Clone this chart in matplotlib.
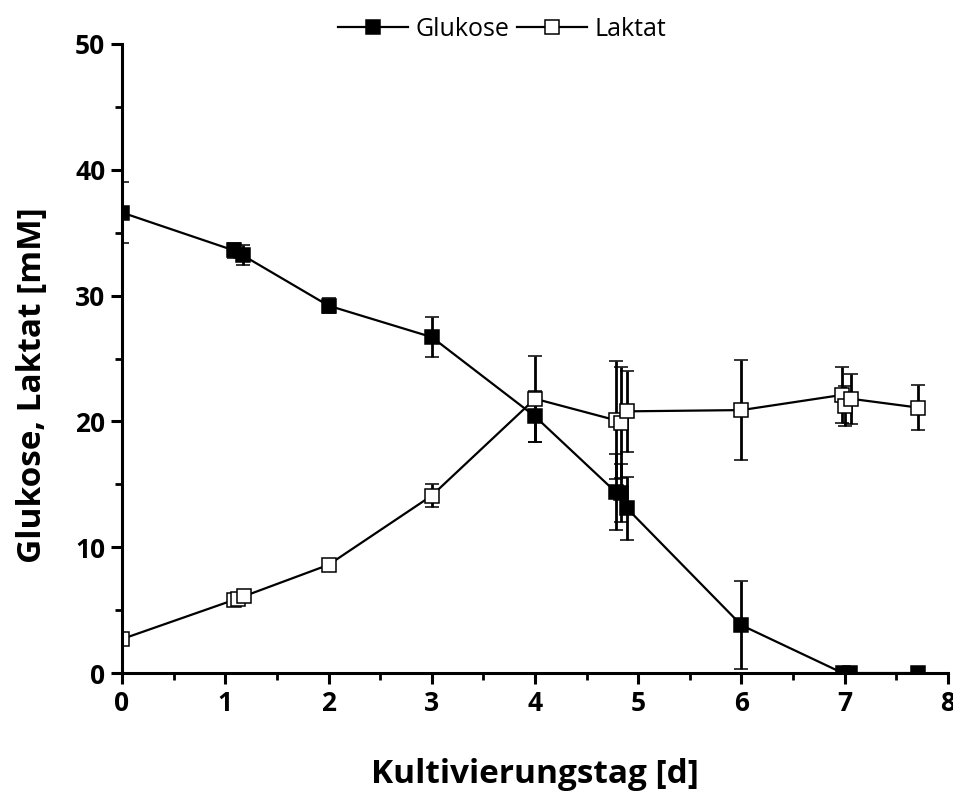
import matplotlib
matplotlib.use("Agg")
import matplotlib.pyplot as plt
from matplotlib.ticker import MultipleLocator

plt.rcParams["font.family"] = ["Open Sans", "DejaVu Sans"]

# ── Data ──────────────────────────────────────────────────────────────
glc_day = [0.0, 1.08, 1.17, 2.0, 3.0, 4.0, 4.78, 4.83, 4.89, 6.0, 6.98, 7.05, 7.71]
glc_val = [36.6, 33.6, 33.2, 29.2, 26.7, 20.4, 14.4, 14.3, 13.1, 3.8, 0.0, 0.0, 0.0]
glc_err = [2.4, 0.6, 0.8, 0.6, 1.6, 2.0, 3.0, 2.3, 2.5, 3.5, 0.0, 0.0, 0.0]

lac_day = [0.0, 1.08, 1.12, 1.18, 2.0, 3.0, 4.0, 4.78, 4.83, 4.89, 6.0, 6.97, 7.0, 7.06, 7.71]
lac_val = [2.7, 5.8, 5.9, 6.1, 8.6, 14.1, 21.8, 20.1, 19.9, 20.8, 20.9, 22.1, 21.2, 21.8, 21.1]
lac_err = [0.3, 0.3, 0.3, 0.4, 0.3, 0.9, 3.4, 4.7, 4.4, 3.2, 4.0, 2.2, 1.6, 2.0, 1.8]

# ── Figure ────────────────────────────────────────────────────────────
fig = plt.figure(figsize=(9.54, 7.98), dpi=100)
ax = fig.add_axes([0.1279, 0.1566, 0.8658, 0.7883])

ebar_kw = dict(color="black", lw=1.6, elinewidth=2.0, capsize=5, capthick=2.0,
               marker="s", markersize=10, markeredgecolor="black",
               markeredgewidth=1.1)
ax.errorbar(glc_day, glc_val, yerr=glc_err, markerfacecolor="black",
            label="Glukose", **ebar_kw)
ax.errorbar(lac_day, lac_val, yerr=lac_err, markerfacecolor="white",
            label="Laktat", **ebar_kw)

ax.set_xlim(0, 8)
ax.set_ylim(0, 50)
ax.xaxis.set_major_locator(MultipleLocator(1))
ax.xaxis.set_minor_locator(MultipleLocator(0.5))
ax.yaxis.set_major_locator(MultipleLocator(10))
ax.yaxis.set_minor_locator(MultipleLocator(5))

for s in ["top", "right"]:
    ax.spines[s].set_visible(False)
for s in ["left", "bottom"]:
    ax.spines[s].set_linewidth(2.2)

ax.tick_params(which="major", direction="out", length=8, width=2.2,
               labelsize=19, pad=4)
ax.tick_params(which="minor", direction="out", length=5, width=2.0)
for lbl in ax.get_xticklabels() + ax.get_yticklabels():
    lbl.set_fontweight("bold")

ax.set_xlabel("Kultivierungstag [d]", fontsize=24, fontweight="bold", labelpad=30)
ax.set_ylabel("Glukose, Laktat [mM]", fontsize=24, fontweight="bold")
ax.yaxis.set_label_coords(-0.088, 0.458)

handles, labels = ax.get_legend_handles_labels()
handles = [h[0] for h in handles]
ax.legend(handles, labels, loc="lower center", bbox_to_anchor=(0.46, 0.98),
          ncol=2, frameon=False, fontsize=18, handlelength=2.8,
          columnspacing=0.3, handletextpad=0.3, borderpad=0.1)

fig.savefig("out.png", dpi=100, facecolor="white")
